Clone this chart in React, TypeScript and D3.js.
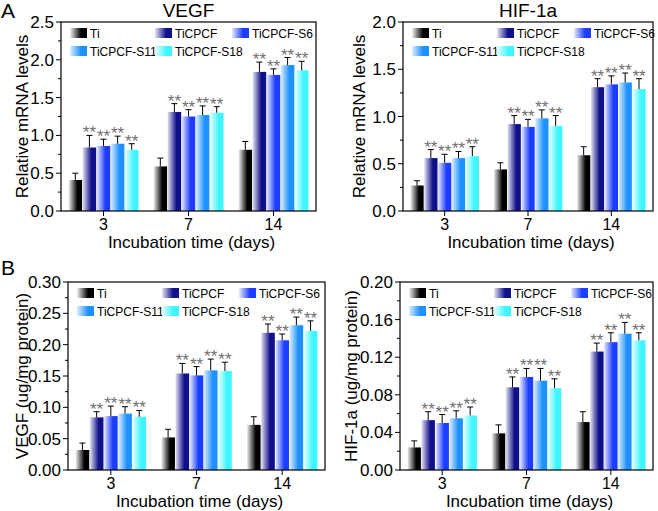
import React from "react";
import * as d3 from "d3";

const days = ["3", "7", "14"];
const series = ["Ti", "TiCPCF", "TiCPCF-S6", "TiCPCF-S11", "TiCPCF-S18"];
const lightColors = ["#f2f2f2", "#e4e4f4", "#e6ebff", "#dcefff", "#eaffff"];
const darkColors = ["#000000", "#10108a", "#1c3cff", "#1e90ff", "#3ff5ff"];

// Panel A left: VEGF mRNA (rows = series, cols = days)
const vegfMrna = [
  [0.41, 0.59, 0.81],
  [0.84, 1.31, 1.84],
  [0.86, 1.25, 1.8],
  [0.89, 1.27, 1.93],
  [0.81, 1.3, 1.86],
];
const vegfMrnaErr = [
  [0.09, 0.11, 0.11],
  [0.16, 0.11, 0.13],
  [0.09, 0.09, 0.08],
  [0.1, 0.12, 0.1],
  [0.08, 0.08, 0.12],
];
// Panel A right: HIF-1a mRNA
const hifMrna = [
  [0.27, 0.44, 0.59],
  [0.56, 0.92, 1.31],
  [0.51, 0.89, 1.34],
  [0.56, 0.98, 1.36],
  [0.58, 0.9, 1.29],
];
const hifMrnaErr = [
  [0.05, 0.07, 0.09],
  [0.09, 0.09, 0.09],
  [0.09, 0.08, 0.09],
  [0.07, 0.09, 0.1],
  [0.1, 0.11, 0.11],
];
// Panel B left: VEGF protein
const vegfProt = [
  [0.032, 0.052, 0.072],
  [0.084, 0.154, 0.219],
  [0.086, 0.151, 0.207],
  [0.09, 0.159, 0.231],
  [0.085, 0.158, 0.222],
];
const vegfProtErr = [
  [0.011, 0.013, 0.013],
  [0.009, 0.016, 0.014],
  [0.016, 0.014, 0.01],
  [0.011, 0.018, 0.013],
  [0.01, 0.014, 0.016],
];
// Panel B right: HIF-1a protein
const hifProt = [
  [0.024, 0.039, 0.051],
  [0.053, 0.088, 0.126],
  [0.05, 0.099, 0.136],
  [0.055, 0.095, 0.145],
  [0.058, 0.087, 0.138],
];
const hifProtErr = [
  [0.007, 0.009, 0.011],
  [0.009, 0.011, 0.009],
  [0.009, 0.009, 0.01],
  [0.008, 0.013, 0.012],
  [0.009, 0.01, 0.008],
];

const FONT = "'Liberation Sans', Arial, Helvetica, sans-serif";

type PanelProps = {
  id: string;
  left: number;
  right: number;
  top: number;
  bottom: number;
  yMax: number;
  yStep: number;
  decimals: number;
  values: number[][];
  errs: number[][];
  yLabel: string;
  yLabelX: number;
  title?: string;
};

function Panel(p: PanelProps) {
  const x = d3.scaleLinear().domain([-0.5, 2.5]).range([p.left, p.right]);
  const y = d3.scaleLinear().domain([0, p.yMax]).range([p.bottom, p.top]);
  const band = x(1) - x(0);
  const barW = band * 0.16;
  const nTicks = Math.round(p.yMax / p.yStep);
  const majors = d3.range(nTicks + 1).map((i) => i * p.yStep);
  const minors = d3.range(nTicks).map((i) => (i + 0.5) * p.yStep);
  const fmt = d3.format(`.${p.decimals}f`);
  const midY = (p.top + p.bottom) / 2;
  const legendCols = [9, 94, 171];
  const legendItems = series.map((s, i) => ({
    s,
    i,
    lx: p.left + legendCols[i < 3 ? i : i - 3],
    ly: p.top + (i < 3 ? 11 : 29),
  }));
  return (
    <g>
      {p.title && (
        <text x={(p.left + p.right) / 2} y={p.top - 5} textAnchor="middle" fontSize={19} fontFamily={FONT}>
          {p.title}
        </text>
      )}
      {/* bars */}
      {series.map((s, si) =>
        days.map((d, di) => {
          const cx = x(di) + (si - 2) * (barW + 0.5);
          const v = p.values[si][di];
          const e = p.errs[si][di];
          const yt = y(v);
          const ye = y(v + e);
          return (
            <g key={`${si}-${di}`}>
              <rect x={cx - barW / 2} y={yt} width={barW} height={p.bottom - yt} fill={`url(#${p.id}-g${si})`} />
              <line x1={cx} x2={cx} y1={yt} y2={ye} stroke="#000" strokeWidth={1} />
              <line x1={cx - 3} x2={cx + 3} y1={ye} y2={ye} stroke="#000" strokeWidth={1} />
              {si > 0 && (
                <text x={cx} y={ye + 3} textAnchor="middle" fontSize={17} fill="#707070" fontFamily={FONT}>
                  **
                </text>
              )}
            </g>
          );
        })
      )}
      {/* frame */}
      <rect x={p.left} y={p.top} width={p.right - p.left} height={p.bottom - p.top} fill="none" stroke="#000" strokeWidth={1.2} />
      {/* y ticks */}
      {majors.map((t) => (
        <g key={`m${t}`}>
          <line x1={p.left - 5} x2={p.left} y1={y(t)} y2={y(t)} stroke="#000" strokeWidth={1} />
          <text x={p.left - 7} y={y(t) + 6} textAnchor="end" fontSize={17} fontFamily={FONT}>
            {fmt(t)}
          </text>
        </g>
      ))}
      {minors.map((t) => (
        <line key={`n${t}`} x1={p.left - 3} x2={p.left} y1={y(t)} y2={y(t)} stroke="#000" strokeWidth={1} />
      ))}
      {/* x ticks */}
      {days.map((d, di) => (
        <g key={`x${d}`}>
          <line x1={x(di)} x2={x(di)} y1={p.bottom} y2={p.bottom + 5} stroke="#000" strokeWidth={1} />
          <text x={x(di)} y={p.bottom + 19} textAnchor="middle" fontSize={16} fontFamily={FONT}>
            {d}
          </text>
        </g>
      ))}
      <text x={(p.left + p.right) / 2 + 3} y={p.bottom + 37} textAnchor="middle" fontSize={17} fontFamily={FONT}>
        Incubation time (days)
      </text>
      <text
        transform={`translate(${p.yLabelX},${midY}) rotate(-90)`}
        textAnchor="middle"
        dominantBaseline="central"
        fontSize={17}
        fontFamily={FONT}
      >
        {p.yLabel}
      </text>
      {/* legend */}
      {legendItems.map((l) => (
        <g key={`l${l.s}`}>
          <rect x={l.lx} y={l.ly - 5} width={17} height={10} fill={`url(#${p.id}-g${l.i})`} />
          <text x={l.lx + 20} y={l.ly + 4.5} fontSize={12} fontFamily={FONT}>
            {l.s}
          </text>
        </g>
      ))}
      <defs>
        {series.map((s, si) => (
          <linearGradient key={s} id={`${p.id}-g${si}`} x1="0" x2="1" y1="0" y2="0">
            <stop offset="0%" stopColor={lightColors[si]} />
            <stop offset="65%" stopColor={darkColors[si]} />
            <stop offset="100%" stopColor={darkColors[si]} />
          </linearGradient>
        ))}
      </defs>
    </g>
  );
}

export default function App() {
  return (
    <svg width={658} height={511} style={{ position: "absolute", left: 0, top: 0, background: "#fff" }}>
      <rect width={658} height={511} fill="#fff" />
      <text x={1} y={18} fontSize={21} fontFamily={FONT}>A</text>
      <text x={1} y={275} fontSize={21} fontFamily={FONT}>B</text>
      <Panel id="al" left={61} right={316} top={22} bottom={211} yMax={2.5} yStep={0.5} decimals={1}
        values={vegfMrna} errs={vegfMrnaErr} yLabel="Relative mRNA levels" yLabelX={22} title="VEGF" />
      <Panel id="ar" left={403} right={653} top={22} bottom={211} yMax={2.0} yStep={0.5} decimals={1}
        values={hifMrna} errs={hifMrnaErr} yLabel="Relative mRNA levels" yLabelX={359} title="HIF-1a" />
      <Panel id="bl" left={68} right={325} top={282} bottom={470} yMax={0.3} yStep={0.05} decimals={2}
        values={vegfProt} errs={vegfProtErr} yLabel="VEGF (ug/mg protein)" yLabelX={22} />
      <Panel id="br" left={400} right={653} top={282} bottom={470} yMax={0.2} yStep={0.04} decimals={2}
        values={hifProt} errs={hifProtErr} yLabel="HIF-1a (ug/mg protein)" yLabelX={351} />
    </svg>
  );
}
